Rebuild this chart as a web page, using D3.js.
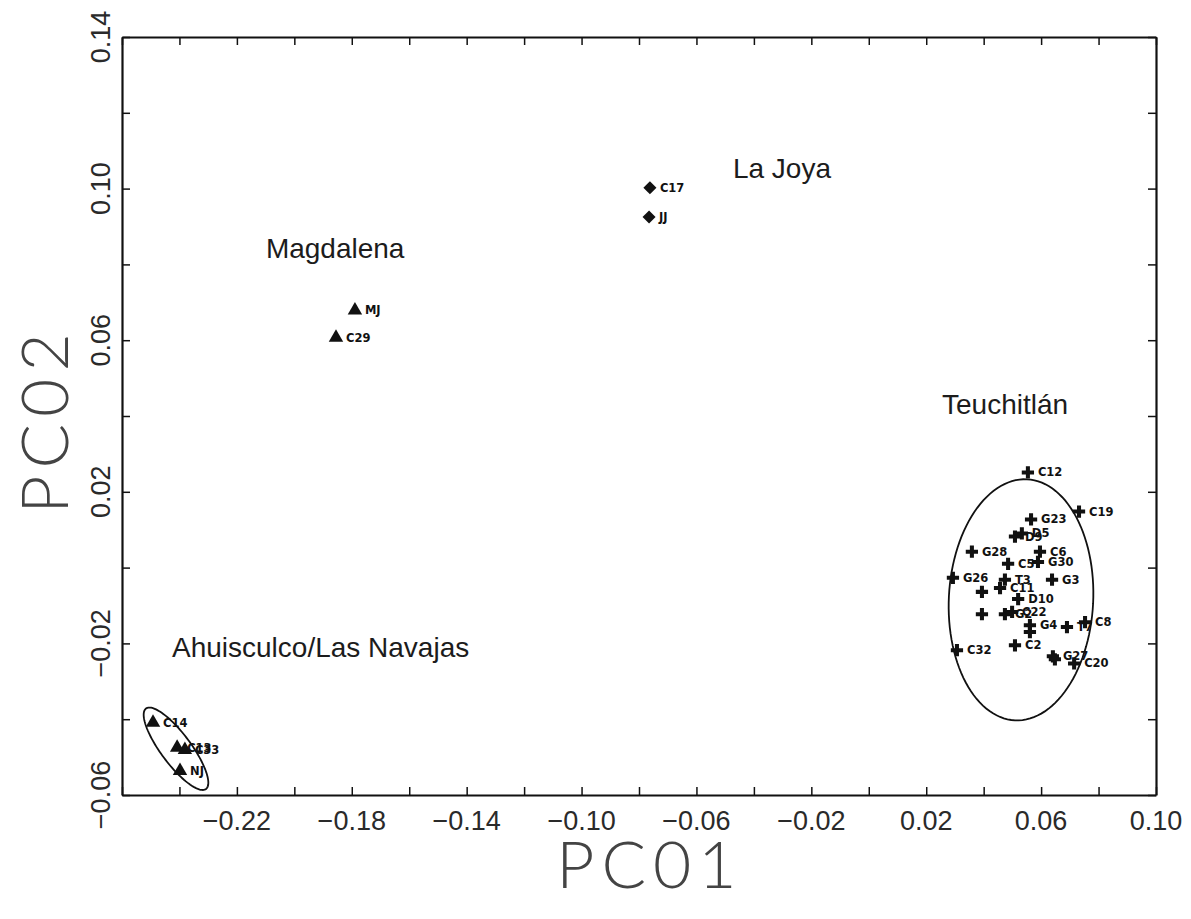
<!DOCTYPE html>
<html>
<head>
<meta charset="utf-8">
<script src="https://cdn.jsdelivr.net/npm/d3@7"></script>
<style>
  body { margin: 0; background: #fff; }
  svg { display: block; }
  .tick line { stroke: #111; stroke-width: 1.5; }
  .domain { stroke: #111; stroke-width: 2.2; }
</style>
</head>
<body>
<svg></svg>
<script>
// sample ids, group, PC01, PC02
const groupNames = ["Ahuisculco/Las Navajas", "Magdalena", "La Joya", "Teuchitlán"];
const groupLabelX = [-0.2426, -0.2099, -0.0473, 0.0255];
const groupLabelY = [-0.0237, 0.0816, 0.1029, 0.0405];

const sampleIds = [
  "C14", "C13", "C33", "NJ",
  "MJ", "C29",
  "C17", "JJ",
  "C12", "G23", "C19", "D9", "D5", "G28", "C6", "G26", "C5", "G30", "T3", "G3",
  "C11", "", "D10", "", "G2", "C22", "G4", "", "T7", "C8", "C32", "C2", "G27", "", "C20"
];
const sampleGroup = [
  0, 0, 0, 0,
  1, 1,
  2, 2,
  3, 3, 3, 3, 3, 3, 3, 3, 3, 3, 3, 3,
  3, 3, 3, 3, 3, 3, 3, 3, 3, 3, 3, 3, 3, 3, 3
];
const pc1 = [
  -0.2492, -0.2408, -0.2381, -0.2398,
  -0.1789, -0.1855,
  -0.0762, -0.0765,
  0.0554, 0.0565, 0.0732, 0.0509, 0.0533, 0.0359, 0.0596, 0.0293, 0.0485, 0.0589, 0.0474, 0.0638,
  0.0457, 0.0394, 0.0520, 0.0394, 0.0474, 0.0499, 0.0561, 0.0561, 0.0690, 0.0753, 0.0307, 0.0509, 0.0641, 0.0648, 0.0715
];
const pc2 = [
  -0.0409, -0.0475, -0.0481, -0.0536,
  0.0679, 0.0607,
  0.1002, 0.0925,
  0.0251, 0.0127, 0.0148, 0.0082, 0.0090, 0.0042, 0.0042, -0.0027, 0.0010, 0.0015, -0.0032, -0.0032,
  -0.0054, -0.0064, -0.0083, -0.0123, -0.0123, -0.0117, -0.0152, -0.0170, -0.0157, -0.0144, -0.0218, -0.0205, -0.0234, -0.0242, -0.0253
];

// ellipses: center and two half-axis vectors, data units
const ellipseGroup = [0, 3];
const ellipseCx = [-0.2412, 0.0530];
const ellipseCy = [-0.0478, -0.0085];
const ellipseAx = [[0.01045, -0.01061], [0.0021, 0.0318]];
const ellipseBx = [[0.00418, 0.00239], [0.0251, -0.00095]];

const xTicks = [-0.26, -0.24, -0.22, -0.20, -0.18, -0.16, -0.14, -0.12, -0.10, -0.08, -0.06, -0.04, -0.02, 0, 0.02, 0.04, 0.06, 0.08, 0.10];
const yTicks = [-0.06, -0.04, -0.02, 0, 0.02, 0.04, 0.06, 0.08, 0.10, 0.12, 0.14];
const xTickLabels = ["−0.22", "−0.18", "−0.14", "−0.10", "−0.06", "−0.02", "0.02", "0.06", "0.10"];
const xTickLabelVals = [-0.22, -0.18, -0.14, -0.10, -0.06, -0.02, 0.02, 0.06, 0.10];
const yTickLabels = ["−0.06", "−0.02", "0.02", "0.06", "0.10", "0.14"];
const yTickLabelVals = [-0.06, -0.02, 0.02, 0.06, 0.10, 0.14];

const width = 1191, height = 919;
const padLeft = 122, padRight = 1156, padTop = 37, padBottom = 795;

const svg = d3.select("svg").attr("width", width).attr("height", height);

const x = d3.scaleLinear().domain([-0.26, 0.10]).range([padLeft, padRight]);
const y = d3.scaleLinear().domain([-0.06, 0.14]).range([padBottom, padTop]);

// frame with inward ticks on all four sides
svg.append("g").attr("transform", `translate(0,${padBottom})`)
   .call(d3.axisBottom(x).tickValues(xTicks).tickSize(-8).tickSizeOuter(0).tickFormat(""));
svg.append("g").attr("transform", `translate(0,${padTop})`)
   .call(d3.axisTop(x).tickValues(xTicks).tickSize(-8).tickSizeOuter(0).tickFormat(""));
svg.append("g").attr("transform", `translate(${padLeft},0)`)
   .call(d3.axisLeft(y).tickValues(yTicks).tickSize(-8).tickSizeOuter(0).tickFormat(""));
svg.append("g").attr("transform", `translate(${padRight},0)`)
   .call(d3.axisRight(y).tickValues(yTicks).tickSize(-8).tickSizeOuter(0).tickFormat(""));

// tick labels
svg.append("g").selectAll("text")
   .data(xTickLabelVals)
   .join("text")
   .attr("x", d => x(d))
   .attr("y", padBottom + 35)
   .attr("text-anchor", "middle")
   .style("font-family", "Liberation Sans, Arial, sans-serif")
   .style("font-size", "27px")
   .style("fill", "#2a2a2a")
   .text((d, i) => xTickLabels[i]);

svg.append("g").selectAll("text")
   .data(yTickLabelVals)
   .join("text")
   .attr("transform", d => `translate(${padLeft - 12},${y(d)}) rotate(-90)`)
   .attr("text-anchor", "middle")
   .style("font-family", "Liberation Sans, Arial, sans-serif")
   .style("font-size", "27px")
   .style("fill", "#2a2a2a")
   .text((d, i) => yTickLabels[i]);

// axis titles
svg.append("text")
   .attr("x", 650)
   .attr("y", 888)
   .attr("text-anchor", "middle")
   .style("font-family", "Lato, DejaVu Sans, sans-serif")
   .style("font-weight", 300)
   .style("font-size", "66px")
   .style("letter-spacing", "7px")
   .style("fill", "#444")
   .text("PC01");

svg.append("text")
   .attr("transform", `translate(68,${420}) rotate(-90)`)
   .attr("text-anchor", "middle")
   .style("font-family", "Lato, DejaVu Sans, sans-serif")
   .style("font-weight", 300)
   .style("font-size", "66px")
   .style("letter-spacing", "7px")
   .style("fill", "#444")
   .text("PC02");

// ellipses
const line = d3.line().curve(d3.curveLinearClosed);
svg.append("g").selectAll("path")
   .data(ellipseGroup)
   .join("path")
   .attr("d", (g, i) => line(d3.range(0, 360, 3).map(a => {
       let t = a * Math.PI / 180;
       return [x(ellipseCx[i] + Math.cos(t) * ellipseAx[i][0] + Math.sin(t) * ellipseBx[i][0]),
               y(ellipseCy[i] + Math.cos(t) * ellipseAx[i][1] + Math.sin(t) * ellipseBx[i][1])];
   })))
   .attr("fill", "none")
   .attr("stroke", "#111")
   .attr("stroke-width", 1.8);

// plus marker with thin arms
const plusSymbol = {
  draw(ctx, size) {
    let r = Math.sqrt(size) / 2, w = r * 0.33;
    ctx.moveTo(-r, -w); ctx.lineTo(-w, -w); ctx.lineTo(-w, -r); ctx.lineTo(w, -r);
    ctx.lineTo(w, -w); ctx.lineTo(r, -w); ctx.lineTo(r, w); ctx.lineTo(w, w);
    ctx.lineTo(w, r); ctx.lineTo(-w, r); ctx.lineTo(-w, w); ctx.lineTo(-r, w);
    ctx.closePath();
  }
};
const symbolFor = [
  d3.symbol(d3.symbolTriangle, 90),
  d3.symbol(d3.symbolTriangle, 90),
  d3.symbol(d3.symbolSquare, 85),
  d3.symbol(plusSymbol, 150)
];

const pts = sampleIds.map((id, i) => ({id: id, g: sampleGroup[i], pc1: pc1[i], pc2: pc2[i]}));

svg.append("g").selectAll("path")
   .data(pts)
   .join("path")
   .attr("transform", d => `translate(${x(d.pc1)},${y(d.pc2)})` + (d.g === 2 ? " rotate(45)" : ""))
   .attr("d", d => symbolFor[d.g]())
   .attr("fill", "#111");

svg.append("g").selectAll("text")
   .data(pts.filter(d => d.id !== ""))
   .join("text")
   .attr("x", d => x(d.pc1) + 10)
   .attr("y", d => y(d.pc2) + 4)
   .style("font-family", "DejaVu Sans, sans-serif")
   .style("font-weight", "bold")
   .style("font-size", "11.5px")
   .style("fill", "#111")
   .text(d => d.id);

// group names
svg.append("g").selectAll("text")
   .data(groupNames)
   .join("text")
   .attr("x", (d, i) => x(groupLabelX[i]))
   .attr("y", (d, i) => y(groupLabelY[i]))
   .style("font-family", "Liberation Sans, Arial, sans-serif")
   .style("font-size", "28px")
   .style("fill", "#1c1c1c")
   .text(d => d);
</script>
</body>
</html>
